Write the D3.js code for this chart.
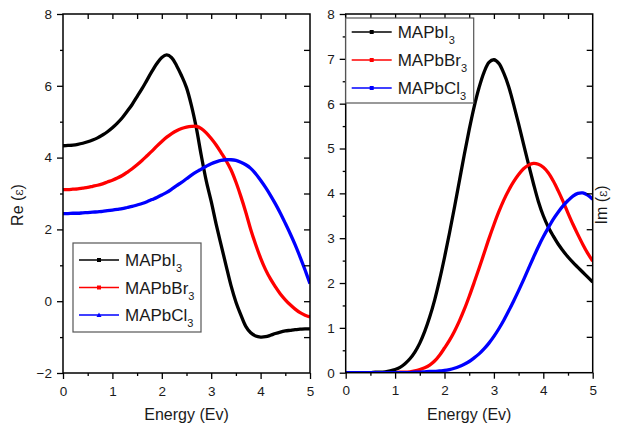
<!DOCTYPE html>
<html><head><meta charset="utf-8">
<script src="https://cdn.jsdelivr.net/npm/d3@7/dist/d3.min.js"></script>
<style>
body{margin:0;background:#fff}
svg{display:block}
text{font-family:"Liberation Sans",Arial,sans-serif;fill:#1a1a1a}
</style>
</head><body>
<svg id="chart" width="617" height="428"></svg>
<script>
// ---------- DATA ----------
const energy = [0.0,0.1,0.2,0.3,0.4,0.5,0.6,0.7,0.8,0.9,1.0,1.1,1.2,1.3,1.4,1.5,1.6,1.7,1.8,1.9,2.0,2.1,2.2,2.3,2.4,2.5,2.6,2.7,2.8,2.9,3.0,3.1,3.2,3.3,3.4,3.5,3.6,3.7,3.8,3.9,4.0,4.1,4.2,4.3,4.4,4.5,4.6,4.7,4.8,4.9,5.0];
const seriesNames = ["MAPbI", "MAPbBr", "MAPbCl"];
const seriesColors = ["#000000", "#ff0000", "#0000ff"];

// Real part Re(eps)
const reMAPbI = [4.33,4.34,4.35,4.37,4.40,4.44,4.49,4.55,4.63,4.72,4.83,4.96,5.11,5.29,5.48,5.70,5.92,6.16,6.40,6.62,6.79,6.86,6.78,6.56,6.28,5.95,5.45,4.82,4.05,3.35,2.78,2.15,1.57,1.00,0.44,-0.02,-0.38,-0.70,-0.88,-0.97,-1.00,-0.99,-0.95,-0.90,-0.86,-0.83,-0.81,-0.79,-0.78,-0.77,-0.77];
const reMAPbBr = [3.11,3.11,3.12,3.13,3.15,3.17,3.20,3.23,3.27,3.32,3.37,3.43,3.50,3.59,3.69,3.80,3.92,4.05,4.18,4.32,4.45,4.57,4.67,4.75,4.81,4.85,4.87,4.87,4.81,4.69,4.53,4.35,4.14,3.92,3.66,3.32,2.92,2.48,2.00,1.58,1.20,0.88,0.62,0.40,0.20,0.04,-0.10,-0.22,-0.32,-0.39,-0.44];
const reMAPbCl = [2.44,2.44,2.45,2.45,2.46,2.47,2.48,2.49,2.50,2.52,2.54,2.56,2.58,2.61,2.64,2.68,2.72,2.77,2.83,2.89,2.96,3.03,3.12,3.22,3.31,3.41,3.51,3.60,3.68,3.76,3.83,3.88,3.92,3.94,3.94,3.92,3.87,3.80,3.70,3.55,3.37,3.17,2.95,2.71,2.45,2.17,1.88,1.57,1.23,0.87,0.49];

// Imaginary part Im(eps)
const imMAPbI = [0,0,0,0,0,0,0.01,0.01,0.02,0.04,0.07,0.12,0.20,0.31,0.46,0.66,0.92,1.24,1.62,2.07,2.57,3.11,3.68,4.27,4.86,5.42,5.93,6.36,6.70,6.92,6.98,6.90,6.68,6.38,5.98,5.55,5.10,4.65,4.22,3.82,3.50,3.25,3.05,2.87,2.72,2.58,2.46,2.35,2.24,2.13,2.02];
const imMAPbBr = [0,0,0,0,0,0,0,0,0,0,0,0.01,0.01,0.02,0.04,0.07,0.11,0.17,0.26,0.39,0.55,0.72,0.92,1.15,1.41,1.70,2.01,2.33,2.66,2.99,3.30,3.59,3.85,4.07,4.26,4.42,4.55,4.63,4.67,4.65,4.58,4.46,4.28,4.06,3.82,3.56,3.31,3.08,2.86,2.66,2.49];
const imMAPbCl = [0,0,0,0,0,0,0,0,0,0,0,0,0,0,0.01,0.01,0.02,0.03,0.03,0.04,0.05,0.07,0.10,0.14,0.19,0.25,0.33,0.42,0.53,0.66,0.81,0.98,1.17,1.38,1.60,1.83,2.07,2.32,2.57,2.81,3.03,3.23,3.42,3.58,3.72,3.84,3.94,4.00,4.01,3.96,3.87];

const leftYTicks = [-2,0,2,4,6,8];
const rightYTicks = [0,1,2,3,4,5,6,7,8];
const xTicks = [0,1,2,3,4,5];

// ---------- DRAW ----------
const svg = d3.select("#chart");

function drawPanel(cfg){
  const x = d3.scaleLinear().domain([0,5]).range([cfg.x0, cfg.x1]);
  const y = d3.scaleLinear().domain(cfg.yDomain).range([cfg.y1, cfg.y0]);
  const g = svg.append("g");
  const clipId = "clip" + cfg.id;
  svg.append("clipPath").attr("id", clipId).append("rect")
    .attr("x", cfg.x0).attr("y", cfg.y0).attr("width", cfg.x1 - cfg.x0).attr("height", cfg.y1 - cfg.y0);

  // curves
  const line = d3.line().x((d,i)=>x(energy[i])).y(d=>y(d)).curve(d3.curveCatmullRom.alpha(0.5));
  cfg.series.forEach((s,k)=>{
    g.append("path").datum(s).attr("d", line)
      .attr("fill","none").attr("stroke", seriesColors[k]).attr("stroke-width", 3.3)
      .attr("clip-path", `url(#${clipId})`);
  });

  // bottom axis (outward)
  const bx = d3.axisBottom(x).tickValues(xTicks).tickSize(6).tickPadding(7).tickFormat(d3.format("d"));
  g.append("g").attr("transform", `translate(0,${cfg.y1})`).call(bx);
  const bMinor = d3.axisBottom(x).tickValues([0.5,1.5,2.5,3.5,4.5]).tickSize(3).tickFormat("");
  g.append("g").attr("transform", `translate(0,${cfg.y1})`).call(bMinor);

  // left axis (outward)
  const ly = d3.axisLeft(y).tickValues(cfg.yTicks).tickSize(6).tickPadding(5).tickFormat(d3.format("d"));
  g.append("g").attr("transform", `translate(${cfg.x0},0)`).call(ly);
  g.append("g").attr("transform", `translate(${cfg.x0},0)`)
    .call(d3.axisLeft(y).tickValues(cfg.yMinor).tickSize(3).tickFormat(""));

  // top axis (inward)
  const tx = d3.axisBottom(x).tickValues([0.5,1,1.5,2,2.5,3,3.5,4,4.5]).tickSize(5).tickFormat("");
  g.append("g").attr("transform", `translate(0,${cfg.y0})`).call(tx);

  // right axis (inward), 10 divisions
  const yR = d3.scaleLinear().domain([0,10]).range([cfg.y1, cfg.y0]);
  g.append("g").attr("transform", `translate(${cfg.x1},0)`)
    .call(d3.axisLeft(yR).tickValues([1,2,3,4,5,6,7,8,9]).tickSize(6).tickFormat(""));

  g.selectAll(".domain").remove();
  g.selectAll(".tick line").attr("stroke","#000").attr("stroke-width",1.3);
  g.selectAll(".tick text").style("font-size","13.5px").style("font-family",'"Liberation Sans",Arial,sans-serif').attr("fill","#1a1a1a");

  // frame
  g.append("rect").attr("x", cfg.x0).attr("y", cfg.y0)
    .attr("width", cfg.x1 - cfg.x0).attr("height", cfg.y1 - cfg.y0)
    .attr("fill","none").attr("stroke","#000").attr("stroke-width",1.5);

  // x label
  g.append("text").attr("x", (cfg.x0+cfg.x1)/2).attr("y", 420)
    .attr("text-anchor","middle").style("font-size","16px").text("Energy (Ev)");

  // y label
  const yl = g.append("text").attr("transform", `translate(${cfg.ylx},205) rotate(-90)`)
    .attr("text-anchor","middle").style("font-size","16px");
  yl.append("tspan").text(cfg.ylab + " (");
  yl.append("tspan").style("font-family",'"DejaVu Serif",serif').style("font-size","12px").text("ε");
  yl.append("tspan").text(")");

  // legend
  const L = cfg.legend;
  g.append("rect").attr("x", L.x).attr("y", L.y).attr("width", L.w).attr("height", L.h)
    .attr("fill","#fff").attr("stroke","#555").attr("stroke-width",1.2);
  seriesNames.forEach((name,k)=>{
    const cy = L.y + L.row0 + k*L.dy;
    g.append("line").attr("x1", L.x+L.lx0).attr("x2", L.x+L.lx1).attr("y1", cy).attr("y2", cy)
      .attr("stroke", seriesColors[k]).attr("stroke-width", 1.4);
    const mx = L.x+(L.lx0+L.lx1)/2;
    if (k === 2 && cfg.id === "L") {
      g.append("path").attr("d", `M${mx-2.5},${cy+2} L${mx+2.5},${cy+2} L${mx},${cy-2.5} Z`).attr("fill", seriesColors[k]);
    } else {
      g.append("rect").attr("x", mx-2).attr("y", cy-2).attr("width",4).attr("height",4).attr("fill", seriesColors[k]);
    }
    const t = g.append("text").attr("x", L.x+L.tx).attr("y", cy+6).style("font-size","17px");
    t.append("tspan").text(name);
    t.append("tspan").attr("dy", 6).style("font-size","11px").text("3");
  });
}

drawPanel({
  id: "L", x0: 63, x1: 310, y0: 14, y1: 373,
  yDomain: [-2,8], yTicks: leftYTicks, yMinor: [-1,1,3,5,7],
  series: [reMAPbI, reMAPbBr, reMAPbCl],
  ylab: "Re", ylx: 23,
  legend: {x: 73, y: 243, w: 128, h: 89, row0: 17, dy: 27.5, lx0: 6, lx1: 46, tx: 52}
});

drawPanel({
  id: "R", x0: 345.7, x1: 592.7, y0: 14, y1: 372.7,
  yDomain: [0,8], yTicks: rightYTicks, yMinor: [0.5,1.5,2.5,3.5,4.5,5.5,6.5,7.5],
  series: [imMAPbI, imMAPbBr, imMAPbCl],
  ylab: "Im", ylx: 607,
  legend: {x: 345.7, y: 18, w: 128, h: 85, row0: 14, dy: 28, lx0: 6, lx1: 46, tx: 52}
});
</script>
</body></html>
